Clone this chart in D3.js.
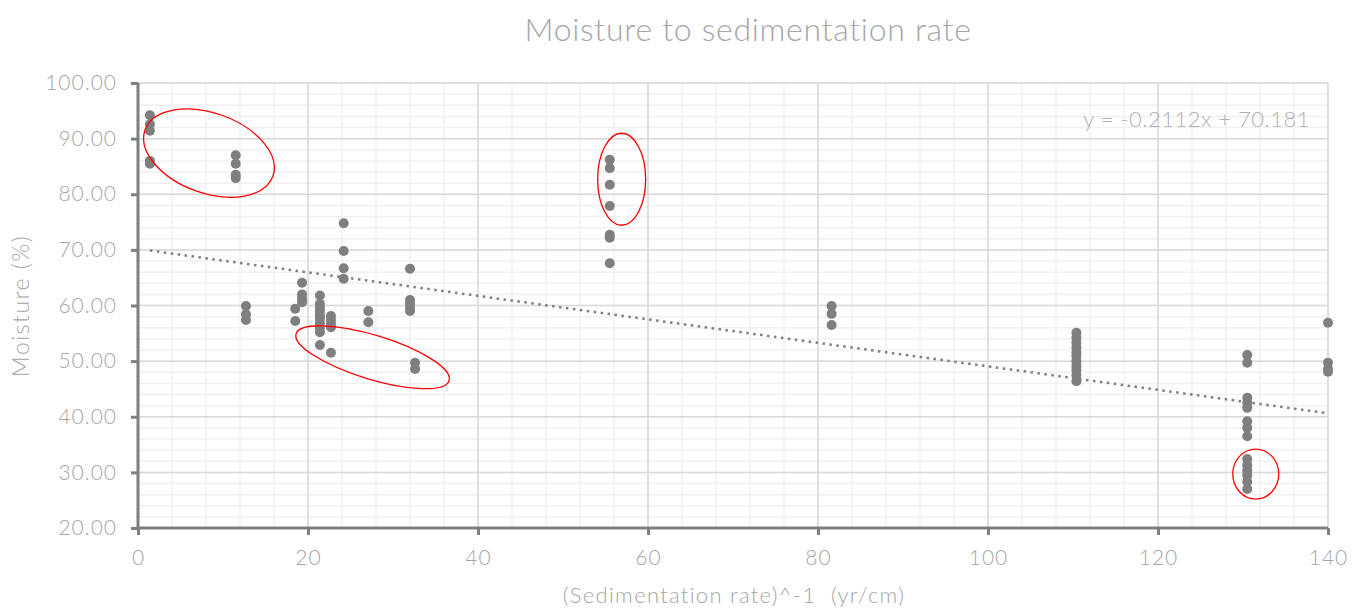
<!DOCTYPE html>
<html>
<head>
<meta charset="utf-8">
<script src="https://cdn.jsdelivr.net/npm/d3@7"></script>
<style>
  html, body { margin: 0; padding: 0; background: #fff; }
  svg text { font-family: "Lato", "Noto Sans", sans-serif; font-weight: 300; }
</style>
</head>
<body>
<svg id="chart" width="1362" height="608"></svg>
<script>
// x columns (inverse sedimentation rate) and the moisture values read in each column
var columnX = [1.4, 11.5, 12.7, 18.5, 19.3, 21.4, 22.7, 24.2, 27.1, 32.0, 32.6, 55.5, 81.6, 110.4, 130.5, 140.0];
var moistureByColumn = [
  [94.2, 92.6, 91.4, 86.0, 85.5],
  [87.0, 85.5, 83.5, 82.9],
  [59.9, 58.4, 57.4],
  [59.4, 57.2],
  [64.1, 62.0, 61.2, 60.6],
  [61.8, 60.3, 59.6, 59.0, 58.3, 57.6, 56.8, 55.9, 55.2, 52.9],
  [58.1, 57.4, 56.7, 56.1, 51.5],
  [74.8, 69.8, 66.7, 64.8],
  [59.0, 57.0],
  [66.6, 61.0, 60.3, 59.6, 59.0],
  [49.7, 48.6],
  [86.2, 84.7, 81.7, 77.9, 72.7, 72.2, 67.6],
  [59.9, 58.5, 56.5],
  [55.1, 54.2, 53.3, 52.4, 51.6, 50.9, 50.0, 49.1, 48.4, 47.5, 46.4],
  [51.1, 49.7, 43.4, 42.5, 41.6, 39.2, 38.0, 36.5, 32.4, 31.3, 30.4, 29.5, 28.3, 27.0],
  [56.9, 49.7, 48.6, 48.1]
];
var trendSlope = -0.2112;
var trendIntercept = 70.181;
var equationLabel = "y = -0.2112x + 70.181";

var xTicks = [0, 20, 40, 60, 80, 100, 120, 140];
var yTicks = [20, 30, 40, 50, 60, 70, 80, 90, 100];

// red annotation ellipses: centre in data units
var ellipseCenters = [[8.35, 87.4], [27.6, 50.7], [56.9, 82.7], [131.5, 29.7]];

var points = [];
columnX.forEach(function(x, i) {
  moistureByColumn[i].forEach(function(y) { points.push({x: x, y: y}); });
});

var svg = d3.select("#chart");
var m = {left: 138, right: 1328, top: 83, bottom: 528};

var x = d3.scaleLinear().domain([0, 140]).range([m.left, m.right]);
var y = d3.scaleLinear().domain([20, 100]).range([m.bottom, m.top]);

var minor = svg.append("g").attr("stroke", "#f0f0f0").attr("stroke-width", 1.5);
minor.selectAll("line.vx").data(d3.range(0, 141, 4)).enter().append("line")
  .attr("x1", x).attr("x2", x).attr("y1", m.top).attr("y2", m.bottom);
minor.selectAll("line.hy").data(d3.range(20, 101, 2)).enter().append("line")
  .attr("y1", y).attr("y2", y).attr("x1", m.left).attr("x2", m.right);

var major = svg.append("g").attr("stroke", "#d9d9d9").attr("stroke-width", 1.5);
major.selectAll("line.vx").data(xTicks).enter().append("line")
  .attr("x1", x).attr("x2", x).attr("y1", m.top).attr("y2", m.bottom);
major.selectAll("line.hy").data(yTicks).enter().append("line")
  .attr("y1", y).attr("y2", y).attr("x1", m.left).attr("x2", m.right);

// axes
var xAxis = svg.append("g").attr("transform", "translate(0," + m.bottom + ")")
  .call(d3.axisBottom(x).tickValues(xTicks).tickSize(7).tickPadding(15).tickFormat(d3.format("d")));
var yAxis = svg.append("g").attr("transform", "translate(" + m.left + ",0)")
  .call(d3.axisLeft(y).tickValues(yTicks).tickSize(7).tickPadding(14).tickFormat(d3.format(".2f")));
[xAxis, yAxis].forEach(function(a) {
  a.select(".domain").attr("stroke", "#7f7f7f").attr("stroke-width", 3);
  a.selectAll(".tick line").attr("stroke", "#7f7f7f").attr("stroke-width", 3);
  a.selectAll(".tick text").attr("fill", "#a6a6a6")
    .style("font-size", "21px").style("letter-spacing", "1px");
});
xAxis.select(".domain").attr("d", "M" + m.left + ",0H" + m.right);
yAxis.select(".domain").attr("d", "M0," + m.top + "V" + m.bottom);

// points
svg.append("g").selectAll("circle").data(points).enter().append("circle")
  .attr("cx", function(d) { return x(d.x); })
  .attr("cy", function(d) { return y(d.y); })
  .attr("r", 5)
  .attr("fill", "#7f7f7f");

// trendline
var xExt = d3.extent(points, function(d) { return d.x; });
svg.append("path")
  .datum(xExt.map(function(v) { return [v, trendSlope * v + trendIntercept]; }))
  .attr("d", d3.line().x(function(d) { return x(d[0]); }).y(function(d) { return y(d[1]); }))
  .attr("fill", "none")
  .attr("stroke", "#7f7f7f")
  .attr("stroke-width", 2.5)
  .attr("stroke-dasharray", "2.5,4.5");

svg.append("text")
  .attr("x", 1310).attr("y", 127)
  .attr("text-anchor", "end")
  .attr("fill", "#b0b0b0")
  .style("font-size", "22px")
  .style("letter-spacing", "0.5px")
  .text(equationLabel);

// annotation ellipses
var ellipseShape = [[68, 40, 20], [80, 22, 17], [24, 46, 0], [23, 25, 0]];
svg.append("g").selectAll("ellipse").data(ellipseCenters).enter().append("ellipse")
  .attr("transform", function(d, i) {
    return "translate(" + x(d[0]) + "," + y(d[1]) + ") rotate(" + ellipseShape[i][2] + ")";
  })
  .attr("rx", function(d, i) { return ellipseShape[i][0]; })
  .attr("ry", function(d, i) { return ellipseShape[i][1]; })
  .attr("fill", "none")
  .attr("stroke", "#ff0000")
  .attr("stroke-width", 1.3);

// titles
svg.append("text")
  .attr("x", 748).attr("y", 41)
  .attr("text-anchor", "middle")
  .attr("fill", "#a6a6a6")
  .style("font-size", "32px")
  .style("letter-spacing", "0.7px")
  .text("Moisture to sedimentation rate");

svg.append("text")
  .attr("x", 734).attr("y", 603)
  .attr("text-anchor", "middle")
  .attr("fill", "#a6a6a6")
  .style("font-size", "22px")
  .style("letter-spacing", "1.3px")
  .style("white-space", "pre")
  .text("(Sedimentation rate)^-1  (yr/cm)");

svg.append("text")
  .attr("transform", "translate(29,306) rotate(-90)")
  .attr("text-anchor", "middle")
  .attr("fill", "#a6a6a6")
  .style("font-size", "23px")
  .style("letter-spacing", "1.5px")
  .text("Moisture (%)");
</script>
</body>
</html>
